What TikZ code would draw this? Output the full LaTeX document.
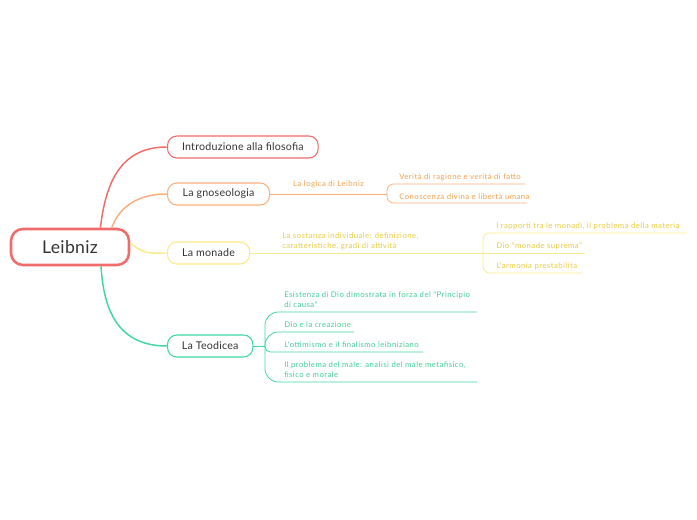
\documentclass[tikz,border=0pt]{standalone}
\usepackage{fontspec}
\setmainfont{Lato}
\newfontfamily\leaffont{Lato}[LetterSpace=6]
\newfontfamily\topicfont{Lato}[LetterSpace=2]
\usetikzlibrary{positioning}

\definecolor{cred}{HTML}{F26B6B}
\definecolor{corange}{HTML}{FBB07C}
\definecolor{corangetxt}{HTML}{F2A24E}
\definecolor{cyellow}{HTML}{FAEA8A}
\definecolor{cyellowtxt}{HTML}{EACB3C}
\definecolor{cgreen}{HTML}{3FD6A2}
\definecolor{cgreentxt}{HTML}{3FCF98}
\definecolor{ctext}{HTML}{333333}

\begin{document}
\begin{tikzpicture}[
    x=0.75pt, y=-0.75pt,
    rootbox/.style={rectangle,rounded corners=9pt,draw=cred,line width=1.9pt,
        minimum width=88.5pt,minimum height=27pt,font=\topicfont\fontsize{13.2}{15}\selectfont,text=ctext},
    topic/.style={rectangle,rounded corners=7pt,line width=0.8pt,minimum height=16.5pt,
        anchor=west,font=\topicfont\fontsize{8}{10}\selectfont,text=ctext},
    leaf/.style={inner sep=0pt,anchor=south west,align=left,font=\leaffont\fontsize{5.8}{7.3}\selectfont},
    link/.style={line width=1.1pt},
    twig/.style={line width=0.6pt,rounded corners=5pt}
]
\useasboundingbox (0,0) rectangle (697,520);

% nodo centrale e temi principali
\node[rootbox] (root) at (70,247) {Leibniz};
\node[topic,draw=cred,minimum width=113pt] (intro) at (167,147) {Introduzione alla filosofia};
\node[topic,draw=corange,minimum width=76.5pt] (gnos) at (167,194) {La gnoseologia};
\node[topic,draw=cyellow,minimum width=61.5pt] (monade) at (167,253) {La monade};
\node[topic,draw=cgreen,minimum width=64pt] (teod) at (167,346) {La Teodicea};

% rami dal nodo centrale
\draw[link,cred] ([xshift=68pt]root.north west) .. controls (106,180) and (122,147) .. (intro.west);
\draw[link,corange] ([xshift=76.5pt]root.north west) .. controls (120,205) and (140,194) .. (gnos.west);
\draw[link,cyellow] ([yshift=3pt]root.east) .. controls (145,255) and (150,253) .. (monade.west);
\draw[link,cgreen] ([xshift=68.5pt]root.south west) .. controls (104,320) and (125,346) .. (teod.west);

% la gnoseologia
\coordinate (gb) at (387,194);
\coordinate (g1e) at (525,184);
\coordinate (g2e) at (527,203);
\draw[twig,corange] (gnos.east) -- node[above=1pt,font=\leaffont\fontsize{5.8}{7}\selectfont,text=corangetxt] (logica) {La logica di Leibniz} (gb);
\draw[twig,corange] (gb) |- (g1e);
\draw[twig,corange] (gb) |- (g2e);
\node[leaf,text=corangetxt] (g1) at (399,181) {Verità di ragione e verità di fatto};
\node[leaf,text=corangetxt] (g2) at (399,200) {Conoscenza divina e libertà umana};

% la monade
\coordinate (mb) at (483,253);
\coordinate (m1e) at (687,233);
\coordinate (m2e) at (585,253);
\coordinate (m3e) at (582,273);
\draw[twig,cyellow] (monade.east) -- (mb);
\node[leaf,text=cyellowtxt] (sostanza) at (282,250) {La sostanza individuale: definizione,\\caratteristiche, gradi di attività};
\draw[twig,cyellow] (mb) |- (m1e);
\draw[twig,cyellow] (mb) -- (m2e);
\draw[twig,cyellow] (mb) |- (m3e);
\node[leaf,text=cyellowtxt] (m1) at (496,230) {I rapporti tra le monadi, il problema della materia};
\node[leaf,text=cyellowtxt] (m2) at (496,250) {Dio "monade suprema"};
\node[leaf,text=cyellowtxt] (m3) at (496,270) {L'armonia prestabilita};

% la Teodicea
\coordinate (tb) at (265,346);
\coordinate (t1e) at (477,312);
\coordinate (t2e) at (354,332);
\coordinate (t3e) at (423,352);
\coordinate (t4e) at (477,382);
\draw[twig,cgreen] (teod.east) -- (tb);
\draw[twig,cgreen,rounded corners=10pt] (tb) |- (t1e);
\draw[twig,cgreen,rounded corners=10pt] (tb) |- (t2e);
\draw[twig,cgreen,rounded corners=4pt] (tb) |- (t3e);
\draw[twig,cgreen,rounded corners=10pt] (tb) |- (t4e);
\node[leaf,text=cgreentxt] (t1) at (284,308) {Esistenza di Dio dimostrata in forza del "Principio\\di causa"};
\node[leaf,text=cgreentxt] (t2) at (284,328) {Dio e la creazione};
\node[leaf,text=cgreentxt] (t3) at (284,348) {L'ottimismo e il finalismo leibniziano};
\node[leaf,text=cgreentxt] (t4) at (284,378) {Il problema del male: analisi del male metafisico,\\fisico e morale};

\end{tikzpicture}
\end{document}
